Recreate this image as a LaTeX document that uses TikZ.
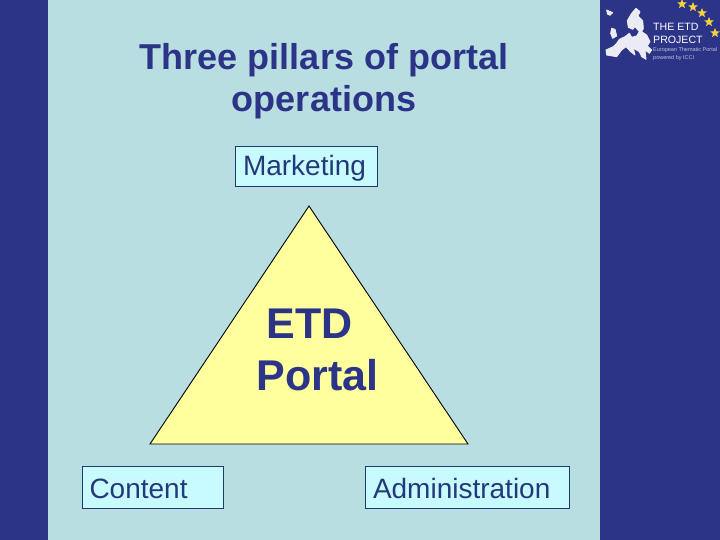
\documentclass[tikz,border=0pt]{standalone}
\usepackage{fontspec}
\setmainfont{Liberation Sans}
\usetikzlibrary{shapes.geometric}
\definecolor{navy}{HTML}{2B3487}
\definecolor{pale}{HTML}{B9DEE2}
\definecolor{boxfill}{HTML}{C8FBFF}
\definecolor{boxline}{HTML}{1F3A6E}
\definecolor{boxtext}{HTML}{24397A}
\definecolor{tri}{HTML}{FFFF9D}
\definecolor{startcol}{HTML}{F2D33C}
\tikzset{
  labelbox/.style={draw=boxline,line width=1pt,fill=boxfill,inner sep=0pt,anchor=north west,text=boxtext,font=\fontsize{28}{30}\selectfont},
  etoile/.style={star,star points=5,star point ratio=2.3,fill=startcol,inner sep=0pt,minimum size=10pt},
  logotext/.style={text=white,anchor=west,inner sep=0pt,font=\fontsize{10.6}{12}\selectfont},
  logosmall/.style={text=white!70!navy,anchor=west,inner sep=0pt,font=\fontsize{5.5}{6}\selectfont},
  mapshape/.style={fill=white!90!navy,draw=white!90!navy,line width=0.9pt,line join=round},
}
\begin{document}
\begin{tikzpicture}[x=1pt,y=-1pt]
\useasboundingbox (0,0) rectangle (720,540);
\fill[navy] (0,0) rectangle (720,540);
\fill[pale] (48,0) rectangle (600,540);
% title
\node[text=navy,align=center,font=\bfseries\fontsize{36}{42.5}\selectfont,inner sep=0pt] (title) at (324,81) {Three pillars of portal\\operations};
% triangle
\path[draw=black,line width=0.9pt,fill=tri] (309,206) coordinate (apex) -- (468,444) coordinate (br) -- (150,444) coordinate (bl) -- cycle;
\node[text=navy,align=center,font=\bfseries\fontsize{43}{52}\selectfont,inner sep=0pt] (portal) at (317.5,349.5) {ETD\hspace*{16pt}\\Portal};
% boxes
\node[labelbox,minimum width=141.5pt,minimum height=40pt,text width=141.5pt,text height=24pt,text depth=6pt] (mkt) at (235,146) {\hspace*{7.5pt}Marketing};
\node[labelbox,minimum width=140.5pt,minimum height=42pt,text width=140.5pt,text height=22pt,text depth=0pt] (cnt) at (82,466) {\hspace*{7pt}Content};
\node[labelbox,minimum width=203.5pt,minimum height=42pt,text width=203.5pt,text height=22pt,text depth=0pt] (adm) at (365,466) {\hspace*{7.5pt}Administration};
% logo
\begin{scope}[shift={(600,0)},x=0.3333pt,y=-0.3333pt]
\path[mapshape] (58,118) -- (75,110) -- (88,100) -- (95,112) -- (110,108) -- (118,95) -- (105,80) -- (98,88) -- (85,82) -- (82,62) -- (95,40) -- (108,25) -- (120,35) -- (114,48) -- (128,62) -- (130,85) -- (125,95) -- (140,105) -- (150,125) -- (142,138) -- (155,150) -- (148,160) -- (135,150) -- (138,178) -- (125,170) -- (118,155) -- (100,145) -- (105,165) -- (92,155) -- (78,140) -- (65,150) -- (50,170) -- (20,165) -- (18,150) -- (40,140) -- (50,130) -- cycle;
\path[mapshape] (35,85) -- (45,88) -- (50,108) -- (38,115) -- (32,100) -- cycle;
\path[mapshape] (20,30) -- (38,38) -- (30,46) -- (22,42) -- cycle;
\end{scope}
\node[etoile] (s1) at (682,4) {};
\node[etoile] (s2) at (693,7) {};
\node[etoile] (s3) at (702,13) {};
\node[etoile] (s4) at (709,22) {};
\node[etoile] (s5) at (715,33) {};
\node[logotext] (l1) at (653,27) {THE ETD};
\node[logotext] (l2) at (653,40) {PROJECT};
\node[logosmall] (l3) at (653,50) {European Thematic Portal};
\node[logosmall] (l4) at (653,58) {powered by ICCI};
\end{tikzpicture}
\end{document}
